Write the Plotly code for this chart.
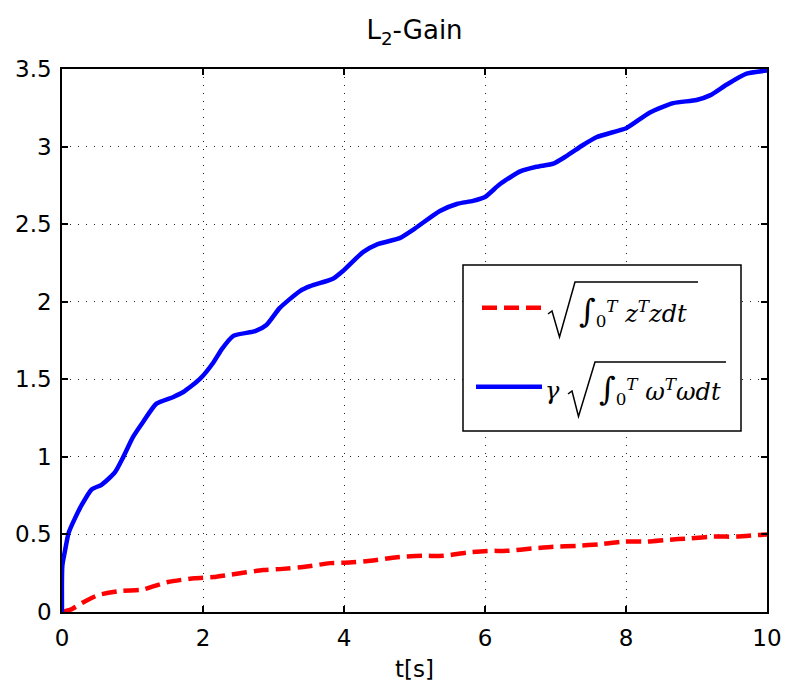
import plotly.graph_objects as go

# Time axis and the two accumulated energy signals
t_gamma_w = [0, 0.005, 0.045, 0.094, 0.19, 0.28, 0.42, 0.56, 0.75, 0.87, 1.01, 1.15,
             1.34, 1.58, 1.72, 1.96, 2.15, 2.26, 2.43, 2.74, 2.90, 3.09, 3.38, 3.52,
             3.85, 3.99, 4.27, 4.47, 4.79, 5.0, 5.36, 5.60, 5.83, 6.0, 6.21,
             6.50, 6.73, 6.97, 7.16, 7.39, 7.58, 7.87, 8.01, 8.34, 8.67, 9.0, 9.19,
             9.43, 9.71, 10.0]
gamma_w = [0, 0.30, 0.40, 0.51, 0.61, 0.69, 0.79, 0.82, 0.90, 1.00, 1.13, 1.225,
           1.343, 1.386, 1.418, 1.504, 1.61, 1.69, 1.78, 1.81, 1.85, 1.96, 2.07, 2.10,
           2.15, 2.20, 2.32, 2.37, 2.41, 2.47, 2.585, 2.63, 2.65, 2.675, 2.757,
           2.84, 2.87, 2.89, 2.94, 3.01, 3.06, 3.10, 3.12, 3.22, 3.28, 3.30, 3.33,
           3.40, 3.47, 3.49]

t_z = [0, 0.12, 0.33, 0.52, 0.85, 1.13, 1.50, 1.88, 2.15, 2.38, 2.85, 3.13, 3.47,
       3.80, 4.08, 4.41, 4.75, 5.12, 5.41, 5.74, 6.07, 6.31, 6.69, 6.97, 7.30, 7.63,
       7.96, 8.29, 8.58, 8.91, 9.24, 9.57, 9.90, 10.0]
z_norm = [0, 0.015, 0.07, 0.11, 0.137, 0.143, 0.193, 0.218, 0.225, 0.24, 0.27, 0.278,
          0.293, 0.315, 0.319, 0.332, 0.353, 0.362, 0.362, 0.383, 0.394, 0.394, 0.41,
          0.42, 0.426, 0.437, 0.454, 0.454, 0.465, 0.475, 0.486, 0.486, 0.497, 0.50]

x_ticks = [0, 2, 4, 6, 8, 10]
y_ticks = [0, 0.5, 1, 1.5, 2, 2.5, 3, 3.5]

FIG_W, FIG_H = 785, 688
L, T, W, H = 62, 69, 705, 543


def px(x):
    return (x - L) / W


def py(y):
    return (T + H - y) / H


fig = go.Figure()
fig.add_trace(go.Scatter(x=t_z, y=z_norm, mode="lines",
                         line=dict(color="#ff0000", width=4.5, dash="15px,7px",
                                   shape="spline", smoothing=0.6),
                         showlegend=False, hoverinfo="skip"))
fig.add_trace(go.Scatter(x=t_gamma_w, y=gamma_w, mode="lines",
                         line=dict(color="#0000ff", width=4.5,
                                   shape="spline", smoothing=0.6),
                         showlegend=False, hoverinfo="skip"))

axis_common = dict(
    showline=True, linecolor="black", linewidth=1.5, mirror="allticks",
    ticks="inside", ticklen=6, tickwidth=1.5, tickcolor="black",
    showgrid=True, gridcolor="#222222", gridwidth=1, griddash="1px,7px",
    zeroline=False, automargin=False,
    tickfont=dict(family="DejaVu Sans", size=23, color="black"),
)

fig.update_xaxes(range=[0, 10], tickvals=x_ticks, ticktext=[str(v) for v in x_ticks],
                 ticklabelstandoff=5,
                 title=dict(text="t[s]", standoff=11,
                            font=dict(family="DejaVu Sans", size=23, color="black")),
                 **axis_common)
fig.update_yaxes(range=[0, 3.5], tickvals=y_ticks,
                 ticktext=["0", "0.5", "1", "1.5", "2", "2.5", "3", "3.5"],
                 ticklabelstandoff=4, **axis_common)

# Legend drawn by hand so the formulas can carry radicals
shapes = [
    dict(type="rect", xref="paper", yref="paper",
         x0=px(463), x1=px(741), y0=py(431), y1=py(265),
         line=dict(color="black", width=1.5), fillcolor="white", layer="above"),
    dict(type="line", xref="paper", yref="paper",
         x0=px(482), x1=px(542), y0=py(307.7), y1=py(307.7),
         line=dict(color="#ff0000", width=4.5, dash="15px,7px"), layer="above"),
    dict(type="line", xref="paper", yref="paper",
         x0=px(476), x1=px(542), y0=py(386.7), y1=py(386.7),
         line=dict(color="#0000ff", width=4.5), layer="above"),
]


def radical(pts):
    d = "M " + " L ".join(f"{px(a):.5f},{py(b):.5f}" for a, b in pts)
    return dict(type="path", xref="paper", yref="paper", path=d,
                line=dict(color="black", width=1.5), layer="above")


shapes.append(radical([(548, 314), (552, 311), (559.5, 337), (575, 282), (698, 282)]))
shapes.append(radical([(568, 394), (572, 391), (578.5, 416.5), (595, 362), (726, 362)]))

math_font = dict(family="DejaVu Serif", size=24, color="black")
annotations = [
    dict(xref="paper", yref="paper", x=px(577), y=py(311), xanchor="left",
         yanchor="middle", showarrow=False, font=math_font,
         text="<span style='font-size:32px'>∫</span><sub>0</sub><sup><i>T</i></sup>"
              " <i>z</i><sup><i>T</i></sup><i>zdt</i>"),
    dict(xref="paper", yref="paper", x=px(543), y=py(391), xanchor="left",
         yanchor="middle", showarrow=False, font=math_font, text="<i>γ</i>"),
    dict(xref="paper", yref="paper", x=px(597), y=py(390), xanchor="left",
         yanchor="middle", showarrow=False, font=math_font,
         text="<span style='font-size:32px'>∫</span><sub>0</sub><sup><i>T</i></sup>"
              " <i>ω</i><sup><i>T</i></sup><i>ωdt</i>"),
]

fig.update_layout(
    width=FIG_W, height=FIG_H,
    margin=dict(l=L, r=FIG_W - L - W, t=T, b=FIG_H - T - H, pad=0),
    paper_bgcolor="white", plot_bgcolor="white",
    title=dict(text="L<sub>2</sub>-Gain", x=0.5, xref="paper",
               y=1 - 30 / FIG_H, yref="container", yanchor="middle",
               font=dict(family="DejaVu Sans", size=26, color="black")),
    shapes=shapes, annotations=annotations,
)

fig.write_html("out.html")
